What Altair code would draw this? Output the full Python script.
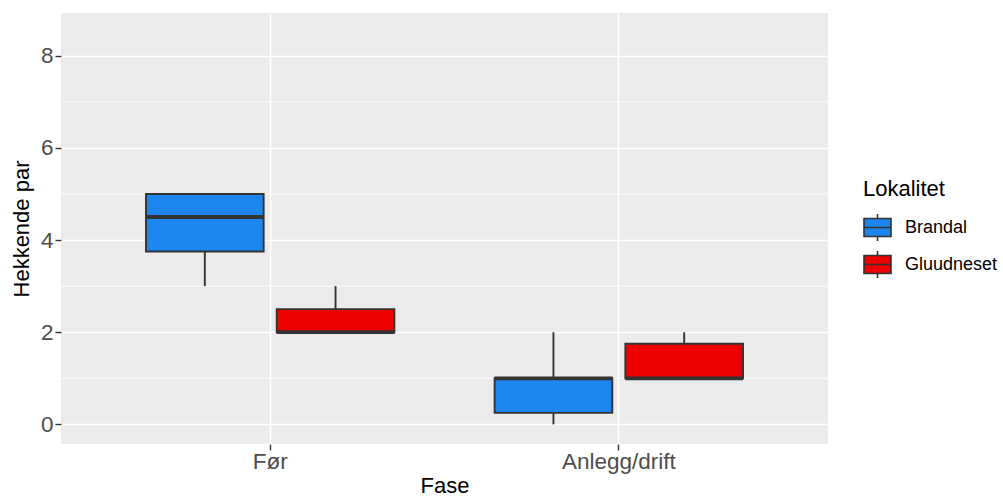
import altair as alt
import pandas as pd

# ---- data ----
fase = ["Før", "Før", "Anlegg/drift", "Anlegg/drift"]
lokalitet = ["Brandal", "Gluudneset", "Brandal", "Gluudneset"]
lower = [3, 2, 0, 1]
q1 = [3.75, 2, 0.25, 1]
median = [4.5, 2, 1, 1]
q3 = [5, 2.5, 1, 1.75]
upper = [5, 3, 2, 2]

fase_order = ["Før", "Anlegg/drift"]
lok_order = ["Brandal", "Gluudneset"]
lok_colors = ["#1C86EE", "#EE0000"]
y_major = [0, 2, 4, 6, 8]
y_minor = [1, 3, 5, 7]
y_domain = [-0.425, 8.925]

df = pd.DataFrame({
    "Fase": fase, "Lokalitet": lokalitet,
    "lower": lower, "q1": q1, "median": median, "q3": q3, "upper": upper,
})
minor_df = pd.DataFrame({"y": y_minor})

FONT = "Liberation Sans"
DARK = "#333333"

x_enc = alt.X(
    "Fase:N", sort=fase_order, title="Fase",
    scale=alt.Scale(paddingInner=0, paddingOuter=0.1),
    axis=alt.Axis(
        bandPosition=0.5, grid=True, gridColor="white", gridWidth=1.6,
        domain=False, tickColor=DARK, tickSize=6, tickWidth=1.4,
        labelColor="#4D4D4D", labelFontSize=22.5, labelFont=FONT, labelPadding=0,
        labelAngle=0,
        titleFont=FONT, titleFontSize=22, titleFontWeight="normal",
        titleColor="black", titlePadding=3,
    ),
)
xo_enc = alt.XOffset(
    "Lokalitet:N", sort=lok_order,
    scale=alt.Scale(paddingInner=0.1, paddingOuter=0.3835),
)
y_scale = alt.Scale(domain=y_domain, nice=False, zero=False)
y_axis = alt.Axis(
    values=y_major, grid=True, gridColor="white", gridWidth=1.6,
    domain=False, tickColor=DARK, tickSize=6, tickWidth=1.4,
    labelColor="#4D4D4D", labelFontSize=22.5, labelFont=FONT, labelPadding=2,
    titleFont=FONT, titleFontSize=22, titleFontWeight="normal",
    titleColor="black", titlePadding=7,
)
color_enc = alt.Color(
    "Lokalitet:N", sort=lok_order,
    scale=alt.Scale(domain=lok_order, range=lok_colors),
    legend=alt.Legend(
        title="Lokalitet", orient="none", legendX=802, legendY=166,
        titleFont=FONT, titleFontSize=22, titleFontWeight="normal",
        titleColor="black", titlePadding=12,
        labelFont=FONT, labelFontSize=18, labelColor="black", labelOffset=13,
        symbolType="M-1,-0.67H1V0.67H-1Z M-1,0H1 M0,-0.67V-1 M0,0.67V1",
        symbolSize=729, symbolStrokeColor=DARK, symbolStrokeWidth=1.6,
        symbolOpacity=1, rowPadding=2,
    ),
)

minor = alt.Chart(minor_df).mark_rule(color="white", strokeWidth=0.8).encode(
    y=alt.Y("y:Q", scale=y_scale, axis=y_axis, title="Hekkende par"),
)

base = alt.Chart(df)

whisk_lo = base.mark_rule(color=DARK, strokeWidth=1.9).encode(
    x=x_enc, xOffset=xo_enc,
    y=alt.Y("lower:Q", scale=y_scale, axis=y_axis, title="Hekkende par"),
    y2="q1:Q",
)
whisk_hi = base.mark_rule(color=DARK, strokeWidth=1.9).encode(
    x=x_enc, xOffset=xo_enc,
    y=alt.Y("q3:Q", scale=y_scale, axis=y_axis, title="Hekkende par"),
    y2="upper:Q",
)
boxes = base.mark_bar(stroke=DARK, strokeWidth=1.9, opacity=1).encode(
    x=x_enc, xOffset=xo_enc,
    y=alt.Y("q1:Q", scale=y_scale, axis=y_axis, title="Hekkende par"),
    y2="q3:Q",
    color=color_enc,
)
med = base.mark_bar(stroke=DARK, strokeWidth=3.8, fillOpacity=0).encode(
    x=x_enc, xOffset=xo_enc,
    y=alt.Y("median:Q", scale=y_scale, axis=y_axis, title="Hekkende par"),
    y2="median:Q",
)

chart = alt.layer(minor, whisk_lo, whisk_hi, boxes, med).properties(
    width=767, height=431,
    autosize=alt.AutoSizeParams(type="none"),
    padding={"left": 61, "top": 13, "right": 175, "bottom": 56},
    background="white",
).configure_view(
    fill="#EBEBEB", stroke=None,
)

chart.save("out.html", embed_options={"renderer": "svg", "actions": False})
